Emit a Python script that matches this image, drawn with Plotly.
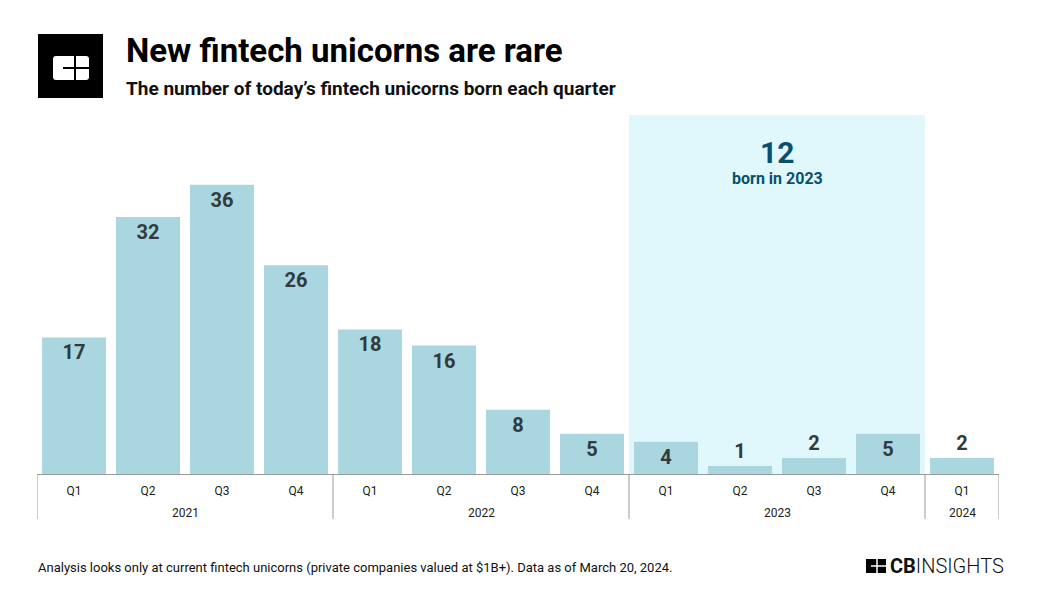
import plotly.graph_objects as go

quarters = ["Q1", "Q2", "Q3", "Q4", "Q1", "Q2", "Q3", "Q4", "Q1", "Q2", "Q3", "Q4", "Q1"]
years = ["2021"] * 4 + ["2022"] * 4 + ["2023"] * 4 + ["2024"]
values = [17, 32, 36, 26, 18, 16, 8, 5, 4, 1, 2, 5, 2]
year_labels = ["2021", "2022", "2023", "2024"]
year_centers = [1.5, 5.5, 9.5, 12]
year_dividers = [-0.5, 3.5, 7.5, 11.5, 12.5]

cats = [f"{y} {q}" for y, q in zip(years, quarters)]
positions = ["inside" if v >= 4 else "outside" for v in values]

FONT = "Roboto"
BAR = "#a9d6df"
LABEL = "#333a3d"

W, H = 1040, 611
pl, pr, pt, pb = 37, 999, 115, 474
def px(x):
    return (x - pl) / (pr - pl)
def py(y):
    return (pb - y) / (pb - pt)

fig = go.Figure()
fig.add_trace(go.Bar(
    x=cats, y=values,
    marker=dict(color=BAR, line=dict(width=0)),
    text=[str(v) for v in values],
    textposition=positions,
    insidetextanchor="end",
    textfont=dict(family=FONT, size=20, color=LABEL, weight="bold"),
    cliponaxis=False,
    hoverinfo="skip",
))

shapes = []
shapes.append(dict(type="rect", xref="x", yref="paper", x0=7.5, x1=11.5, y0=0, y1=1,
                   fillcolor="#e0f8fc", line=dict(width=0), layer="below"))
for d in year_dividers:
    shapes.append(dict(type="line", xref="x", yref="paper", x0=d, x1=d, y0=0, y1=-0.125,
                       line=dict(color="#9a9a9a", width=1)))
# logo black square
shapes.append(dict(type="rect", xref="paper", yref="paper", x0=px(38), x1=px(103), y0=py(98), y1=py(34),
                   fillcolor="black", line=dict(width=0)))
x0, x1, y0, y1, r = 53, 89, 56, 80, 3
shapes.append(dict(type="path", xref="paper", yref="paper",
                   path=(f"M {px(x0+r)},{py(y0)} L {px(x1-r)},{py(y0)} Q {px(x1)},{py(y0)} {px(x1)},{py(y0+r)} "
                         f"L {px(x1)},{py(y1-r)} Q {px(x1)},{py(y1)} {px(x1-r)},{py(y1)} L {px(x0+r)},{py(y1)} "
                         f"Q {px(x0)},{py(y1)} {px(x0)},{py(y1-r)} L {px(x0)},{py(y0+r)} Q {px(x0)},{py(y0)} {px(x0+r)},{py(y0)} Z"),
                   fillcolor="white", line=dict(width=0)))
shapes.append(dict(type="line", xref="paper", yref="paper", x0=px(75), x1=px(75), y0=py(80), y1=py(56),
                   line=dict(color="black", width=2)))
shapes.append(dict(type="line", xref="paper", yref="paper", x0=px(63), x1=px(89), y0=py(68), y1=py(68),
                   line=dict(color="black", width=2)))
# footer logo icon
shapes.append(dict(type="rect", xref="paper", yref="paper", x0=px(866), x1=px(886), y0=py(573), y1=py(559),
                   fillcolor="black", line=dict(width=0)))
shapes.append(dict(type="line", xref="paper", yref="paper", x0=px(877), x1=px(877), y0=py(573), y1=py(559),
                   line=dict(color="white", width=1.5)))
shapes.append(dict(type="line", xref="paper", yref="paper", x0=px(871), x1=px(886), y0=py(566), y1=py(566),
                   line=dict(color="white", width=1.5)))

annotations = []
for lab, c in zip(year_labels, year_centers):
    annotations.append(dict(x=c, y=py(513), xref="x", yref="paper", text=lab, showarrow=False,
                            font=dict(family=FONT, size=12, color="#222"), yanchor="middle"))
annotations.append(dict(x=9.5, y=py(152), xref="x", yref="paper", text="<b>12</b>", showarrow=False,
                        font=dict(family=FONT, size=30, color="#08506e"), yanchor="middle"))
annotations.append(dict(x=9.5, y=py(178), xref="x", yref="paper", text="<b>born in 2023</b>", showarrow=False,
                        font=dict(family=FONT, size=16, color="#08506e"), yanchor="middle"))
annotations.append(dict(x=px(124), y=py(50), xref="paper", yref="paper", text="<b>New fintech unicorns are rare</b>",
                        showarrow=False, xanchor="left", yanchor="middle",
                        font=dict(family=FONT, size=33, color="black")))
annotations.append(dict(x=px(124), y=py(88), xref="paper", yref="paper",
                        text="<b>The number of today’s fintech unicorns born each quarter</b>",
                        showarrow=False, xanchor="left", yanchor="middle",
                        font=dict(family=FONT, size=19, color="#111")))
annotations.append(dict(x=px(36), y=py(567), xref="paper", yref="paper",
                        text="Analysis looks only at current fintech unicorns (private companies valued at $1B+). Data as of March 20, 2024.",
                        showarrow=False, xanchor="left", yanchor="middle",
                        font=dict(family=FONT, size=13, color="#111")))
annotations.append(dict(x=px(888), y=py(566), xref="paper", yref="paper",
                        text="<b>CB</b><span style='font-weight:300'>INSIGHTS</span>",
                        showarrow=False, xanchor="left", yanchor="middle",
                        font=dict(family=FONT, size=20, color="#111")))

fig.update_layout(
    width=W, height=H,
    margin=dict(l=pl, r=W - pr, t=pt, b=H - pb),
    paper_bgcolor="white", plot_bgcolor="rgba(0,0,0,0)",
    bargap=0.135,
    showlegend=False,
    xaxis=dict(type="category", tickmode="array", tickvals=cats, ticktext=quarters,
               showgrid=False, showline=True, linecolor="#9a9a9a", linewidth=1,
               ticks="", tickfont=dict(family=FONT, size=12, color="#222"),
               ticklabelstandoff=6, range=[-0.5, 12.5], fixedrange=True),
    yaxis=dict(range=[0, 44.7], visible=False, fixedrange=True),
    font=dict(family=FONT),
    shapes=shapes, annotations=annotations,
)

fig.write_html("out.html", config={"displayModeBar": False},
               post_script="document.body.style.margin='0';document.body.style.padding='0';")
